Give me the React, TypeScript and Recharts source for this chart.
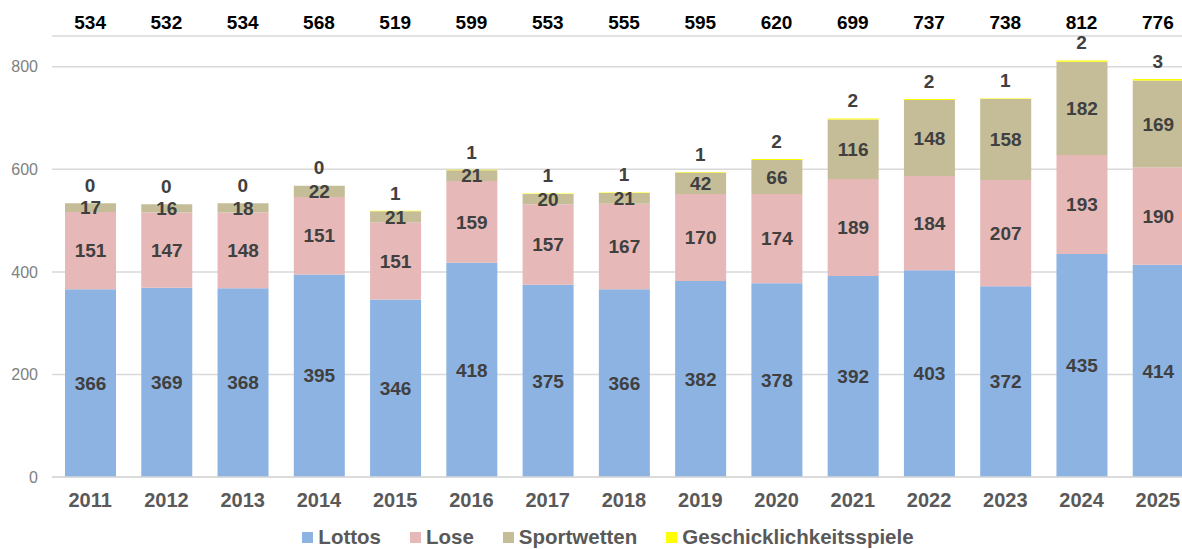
import React from 'react';
import { ComposedChart, Bar, Line, XAxis, YAxis, CartesianGrid, Legend, LabelList } from 'recharts';

const years = ['2011', '2012', '2013', '2014', '2015', '2016', '2017', '2018', '2019', '2020', '2021', '2022', '2023', '2024', '2025'];
const lottos = [366, 369, 368, 395, 346, 418, 375, 366, 382, 378, 392, 403, 372, 435, 414];
const lose = [151, 147, 148, 151, 151, 159, 157, 167, 170, 174, 189, 184, 207, 193, 190];
const sportwetten = [17, 16, 18, 22, 21, 21, 20, 21, 42, 66, 116, 148, 158, 182, 169];
const geschick = [0, 0, 0, 0, 1, 1, 1, 1, 1, 2, 2, 2, 1, 2, 3];
const totals = [534, 532, 534, 568, 519, 599, 553, 555, 595, 620, 699, 737, 738, 812, 776];
const yTicks = [0, 200, 400, 600, 800];
const seriesOrder = ['Lottos', 'Lose', 'Sportwetten', 'Geschicklichkeitsspiele'];

const data = years.map((year, i) => ({
  year,
  Lottos: lottos[i],
  Lose: lose[i],
  Sportwetten: sportwetten[i],
  Geschicklichkeitsspiele: geschick[i],
  total: totals[i],
}));

const FONT = '"Liberation Sans", Arial, Helvetica, sans-serif';
const LABEL_SIZE = 19;

const InsideLabel = (props: any) => {
  const { x, y, width, height, value } = props;
  return (
    <text
      x={x + width / 2}
      y={y + height / 2 + LABEL_SIZE * 0.355}
      textAnchor="middle"
      fontFamily={FONT}
      fontWeight="bold"
      fontSize={LABEL_SIZE}
      fill="#404040"
    >
      {value}
    </text>
  );
};

const TopSegLabel = (props: any) => {
  const { x, y, value } = props;
  return (
    <text
      x={x}
      y={y - 18 + LABEL_SIZE * 0.355}
      textAnchor="middle"
      fontFamily={FONT}
      fontWeight="bold"
      fontSize={LABEL_SIZE}
      fill="#404040"
    >
      {value}
    </text>
  );
};

const TotalLabel = (props: any) => {
  const { x, value } = props;
  return (
    <text
      x={x}
      y={22 + LABEL_SIZE * 0.355}
      textAnchor="middle"
      fontFamily={FONT}
      fontWeight="bold"
      fontSize={LABEL_SIZE}
      fill="#000000"
    >
      {value}
    </text>
  );
};

const renderLegend = (props: any) => {
  const payload = [...(props.payload || [])]
    .filter((e: any) => seriesOrder.includes(e.value))
    .sort((a: any, b: any) => seriesOrder.indexOf(a.value) - seriesOrder.indexOf(b.value));
  return (
    <div
      style={{
        display: 'flex',
        justifyContent: 'center',
        alignItems: 'center',
        gap: 29,
        height: 24,
        paddingLeft: 20,
        fontFamily: FONT,
        fontWeight: 'bold',
        fontSize: 20.5,
        color: '#595959',
      }}
    >
      {payload.map((entry: any) => (
        <span key={entry.value} style={{ display: 'flex', alignItems: 'center' }}>
          <span style={{ display: 'inline-block', width: 11, height: 11, background: entry.color, marginRight: 5 }} />
          {entry.value}
        </span>
      ))}
    </div>
  );
};

export default function App() {
  return (
    <div style={{ position: 'absolute', left: 0, top: 0, width: 1182, height: 549, overflow: 'hidden', background: '#fff' }}>
      <ComposedChart width={1196} height={549} data={data} margin={{ top: 36, right: 0, bottom: 0, left: 0 }} barSize={51}>
        <CartesianGrid vertical={false} stroke="#d9d9d9" strokeWidth={1.5} />
        <XAxis
          dataKey="year"
          height={48}
          tickSize={0}
          tickMargin={16}
          axisLine={{ stroke: '#d9d9d9', strokeWidth: 1.5 }}
          tickLine={false}
          tick={{ fontFamily: FONT, fontWeight: 'bold', fontSize: 20, fill: '#595959' }}
          interval={0}
        />
        <YAxis
          width={52}
          domain={[0, 860]}
          ticks={yTicks}
          tickSize={0}
          tickMargin={14}
          axisLine={false}
          tickLine={false}
          tick={{ fontFamily: FONT, fontSize: 16, fill: '#808080' }}
        />
        <Legend verticalAlign="bottom" height={24} content={renderLegend} />
        <Bar dataKey="Lottos" stackId="a" fill="#8DB3E2" isAnimationActive={false}>
          <LabelList dataKey="Lottos" content={InsideLabel} />
        </Bar>
        <Bar dataKey="Lose" stackId="a" fill="#E6B9B8" isAnimationActive={false}>
          <LabelList dataKey="Lose" content={InsideLabel} />
        </Bar>
        <Bar dataKey="Sportwetten" stackId="a" fill="#C4BD97" isAnimationActive={false}>
          <LabelList dataKey="Sportwetten" content={InsideLabel} />
        </Bar>
        <Bar dataKey="Geschicklichkeitsspiele" stackId="a" fill="#FFFF00" isAnimationActive={false} />
        <Line
          dataKey="total"
          stroke="none"
          dot={false}
          activeDot={false}
          legendType="none"
          isAnimationActive={false}
        >
          <LabelList dataKey="Geschicklichkeitsspiele" content={TopSegLabel} />
          <LabelList dataKey="total" content={TotalLabel} />
        </Line>
      </ComposedChart>
    </div>
  );
}
